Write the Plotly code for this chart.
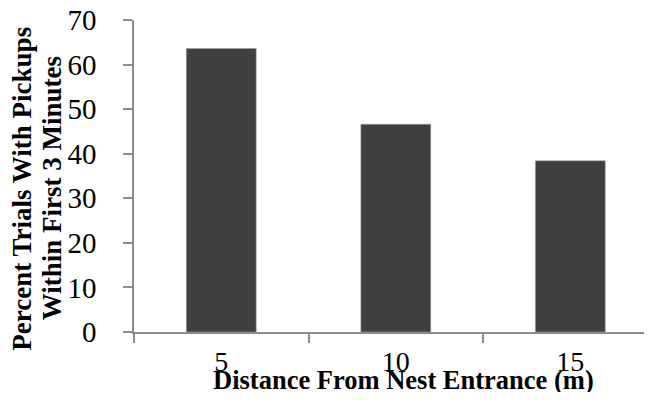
import plotly.graph_objects as go

categories = ["5", "10", "15"]
values = [63.6, 46.6, 38.4]
y_ticks = [0, 10, 20, 30, 40, 50, 60, 70]

x_title = "Distance From Nest Entrance (m)"
y_title_lines = ["Percent Trials With Pickups", "Within First 3 Minutes"]

FONT = "Liberation Serif, Times New Roman, serif"
AXIS_COLOR = "#8c8c8c"

pos = list(range(len(categories)))

fig = go.Figure(
    go.Bar(
        x=pos,
        y=values,
        width=0.4,
        marker=dict(color="#404040", line=dict(color="#9a9a9a", width=0.6)),
    )
)

# page body has an 8px default margin, so the figure is sized to fit the window
fig.update_layout(
    width=644,
    height=384,
    margin=dict(l=126, r=0, t=12, b=60, autoexpand=False),
    paper_bgcolor="white",
    plot_bgcolor="white",
    showlegend=False,
    font=dict(family=FONT, color="black"),
    xaxis=dict(
        range=[-0.5, 2.468],
        tickvals=pos,
        ticktext=categories,
        ticks="",
        tickfont=dict(size=28, family=FONT, color="black"),
        ticklabelstandoff=4,
        ticklabeloverflow="allow",
        showline=True,
        linecolor=AXIS_COLOR,
        linewidth=1.5,
        showgrid=False,
        zeroline=False,
        automargin=False,
        minor=dict(ticks="outside", tick0=-0.5, dtick=1, ticklen=9,
                   tickcolor=AXIS_COLOR, tickwidth=1.5, showgrid=False),
    ),
    yaxis=dict(
        range=[0, 70],
        tickvals=y_ticks,
        ticks="outside",
        ticklen=9,
        tickcolor=AXIS_COLOR,
        tickwidth=1.5,
        tickfont=dict(size=29, family=FONT, color="black"),
        ticklabelstandoff=21,
        ticklabeloverflow="allow",
        showline=True,
        linecolor=AXIS_COLOR,
        linewidth=1.5,
        showgrid=False,
        zeroline=False,
        automargin=False,
    ),
    annotations=[
        dict(text="<b>" + x_title + "</b>", xref="paper", yref="paper",
             x=0.521, y=-0.155, xanchor="center", yanchor="middle",
             showarrow=False, font=dict(size=26.5, family=FONT, color="black")),
        dict(text="<b>" + y_title_lines[0] + "</b>", xref="paper", yref="paper",
             x=-0.2153, y=0.461, xanchor="center", yanchor="middle",
             textangle=-90, showarrow=False,
             font=dict(size=27, family=FONT, color="black")),
        dict(text="<b>" + y_title_lines[1] + "</b>", xref="paper", yref="paper",
             x=-0.1583, y=0.461, xanchor="center", yanchor="middle",
             textangle=-90, showarrow=False,
             font=dict(size=27, family=FONT, color="black")),
    ],
)

fig.write_html("out.html")
